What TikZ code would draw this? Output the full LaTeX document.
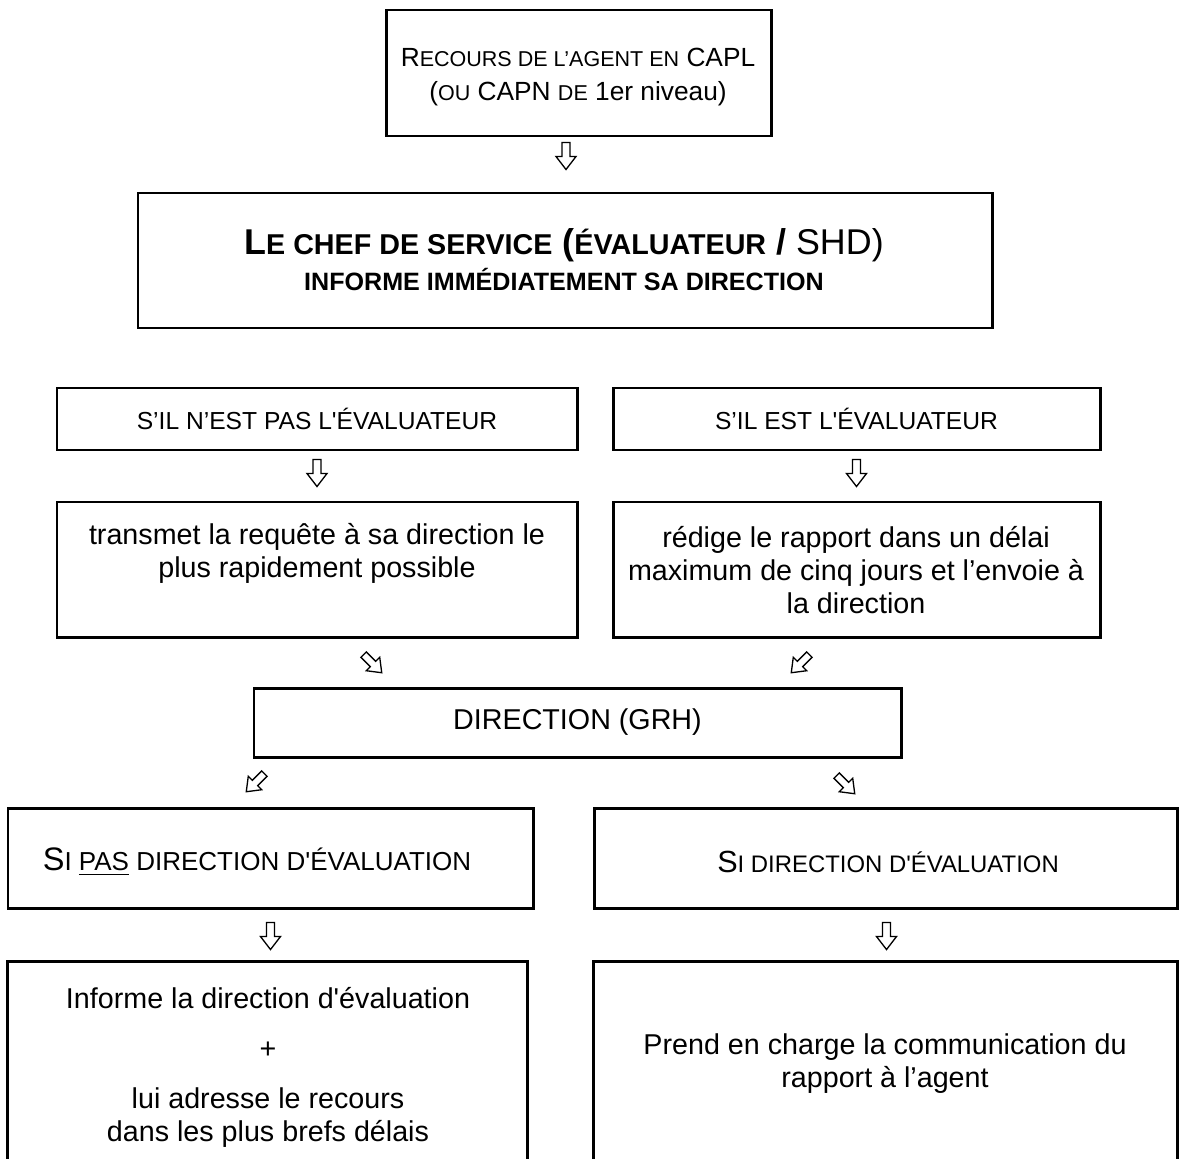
\documentclass[tikz,border=0pt]{standalone}
\usepackage{fontspec}
\setmainfont{Liberation Sans}[Ligatures=TeXOff]
\usepackage{relsize}
\usetikzlibrary{fit,calc}
\tikzset{
  boxline/.style={line width=1.25pt},
  box/.style={draw, boxline, inner sep=0pt},
  frame/.style={inner sep=0pt},
  txt/.style={inner sep=0pt, align=center, font=\fontsize{12}{13.8}\selectfont},
  harrow/.pic={\draw[line width=0.55pt, line join=miter]
     (-4,-14) -- (4,-14) -- (4,0) -- (10,0) -- (0,13) -- (-10,0) -- (-4,0) -- cycle;}
}
\newcommand\smc[1]{\textscale{.8}{#1}}
\begin{document}
\begin{tikzpicture}[x=0.4184pt, y=-0.4184pt]
\useasboundingbox (0,0) rectangle (1180,1158);
\clip (0,0) rectangle (1180,1158);

% boxes
\node[box, fit={(386,10) (771,136)}] (b1) {};
\node[box, fit={(138,193) (992,328)}] (b2) {};
\node[box, fit={(57,388) (577,450)}] (b3l) {};
\node[box, fit={(613,388) (1100,450)}] (b3r) {};
\node[box, fit={(57,502) (577,637)}] (b4l) {};
\node[box, fit={(613,502) (1100,637)}] (b4r) {};
\node[box, fit={(254,688) (901,757)}] (b5) {};
\node[box, fit={(8,808) (533,908)}] (b6l) {};
\node[box, fit={(594,808) (1177,908)}] (b6r) {};
\node[frame, fit={(8,962) (527,1180)}] (b7l) {};
\node[frame, fit={(594,962) (1177,1180)}] (b7r) {};
\draw[boxline] (b7l.south west) -- (b7l.north west) -- (b7l.north east) -- (b7l.south east);
\draw[boxline] (b7r.south west) -- (b7r.north west) -- (b7r.north east) -- (b7r.south east);

% texts
\node[txt, font=\fontsize{11}{14}\selectfont] (t1) at (578,77)
  {R\smc{ECOURS DE L’AGENT EN} CAPL\\(\smc{OU} CAPN \smc{DE} 1er niveau)};
\node[txt, font=\bfseries\fontsize{15}{15}\selectfont] (t2) at (564,260)
  {L\smc{E CHEF DE SERVICE} (\smc{ÉVALUATEUR} / {\mdseries SHD)}\\
   {\fontsize{10.5}{12}\selectfont INFORME IMMÉDIATEMENT SA DIRECTION}};
\node[txt, font=\fontsize{10.3}{12}\selectfont] (t3l) at (b3l.center) {S’IL N’EST PAS L'ÉVALUATEUR};
\node[txt, font=\fontsize{10.3}{12}\selectfont] (t3r) at (b3r.center) {S’IL EST L'ÉVALUATEUR};
\node[txt] (t4l) at (317,553) {transmet la requête à sa direction le\\plus rapidement possible};
\node[txt] (t4r) at (856,570) {rédige le rapport dans un délai\\maximum de cinq jours et l’envoie à\\la direction};
\node[txt] (t5) at (b5.center) {DIRECTION (GRH)};
\node[txt, font=\fontsize{13.6}{16}\selectfont] (t6l) at (257,862) {S\smc{I \underline{PAS} DIRECTION D'ÉVALUATION}};
\node[txt, font=\fontsize{12.8}{16}\selectfont] (t6r) at (888,862) {S\smc{I DIRECTION D'ÉVALUATION}};
\node[txt, anchor=north] (t7l) at (268,987)
  {Informe la direction d'évaluation\\[7pt]+\\[7pt]lui adresse le recours\\dans les plus brefs délais};
\node[txt] (t7r) at (885,1064) {Prend en charge la communication du\\rapport à l’agent};

% arrows between boxes
\path (b2.north) ++(1,-35) pic {harrow};
\path (b4l.north) ++(0,-27) pic {harrow};
\path (b4r.north) ++(0,-27) pic {harrow};
\path (b7l.north) ++(3,-25) pic {harrow};
\path (b7r.north) ++(1,-25) pic {harrow};
\pic[rotate=45, scale=0.95] at (373,664) {harrow};
\pic[rotate=-45, scale=0.95] at (800,664) {harrow};
\pic[rotate=-45, scale=0.95] at (255,783) {harrow};
\pic[rotate=45, scale=0.95] at (846,785) {harrow};
\end{tikzpicture}
\end{document}
